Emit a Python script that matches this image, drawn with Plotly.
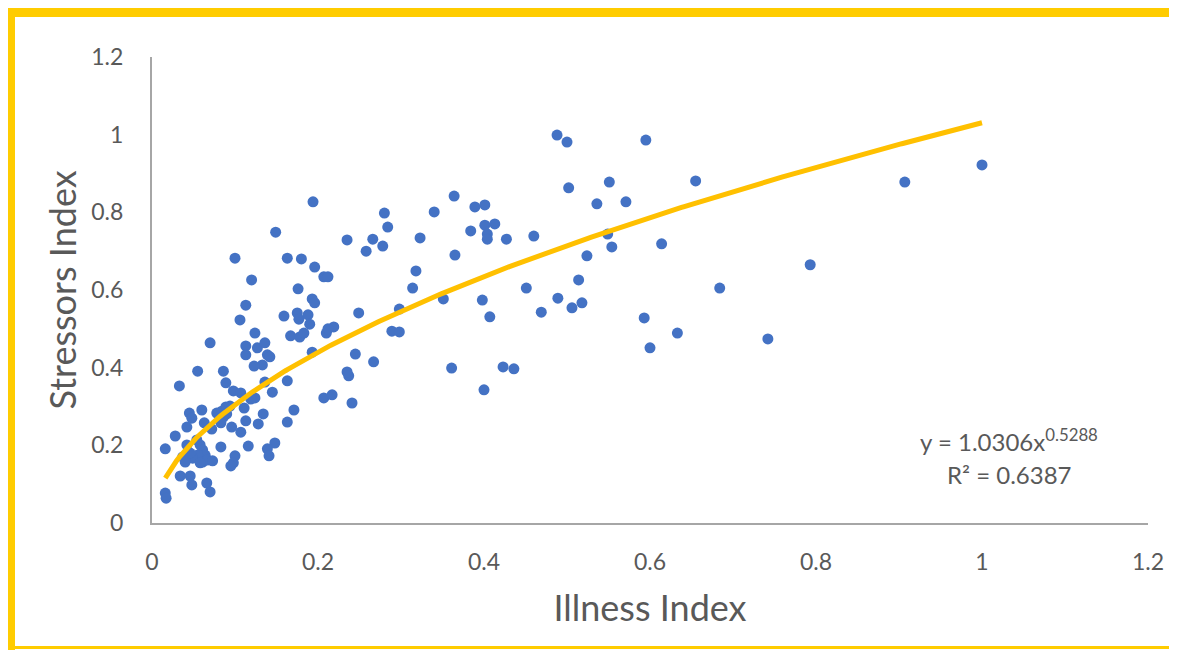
import plotly.graph_objects as go
import numpy as np

# ---- data ----
illness_index = [
    1.000, 0.907, 0.793, 0.684, 0.742, 0.655, 0.595, 0.614, 0.633, 0.593,
    0.600, 0.571, 0.551, 0.536, 0.549, 0.554, 0.524, 0.514, 0.518, 0.506,
    0.489, 0.502, 0.488, 0.500, 0.460, 0.469, 0.451, 0.436, 0.423, 0.427,
    0.413, 0.401, 0.404, 0.404, 0.407, 0.398, 0.400, 0.401, 0.389, 0.384,
    0.365, 0.364, 0.361, 0.351, 0.340, 0.323, 0.318, 0.314, 0.298, 0.289,
    0.298, 0.284, 0.280, 0.278, 0.266, 0.267, 0.258, 0.249, 0.245, 0.241,
    0.237, 0.235, 0.235,
    0.194, 0.149, 0.163, 0.180, 0.196, 0.207, 0.212, 0.176, 0.193, 0.196,
    0.159, 0.175, 0.177, 0.188, 0.190, 0.167, 0.178, 0.183, 0.210, 0.219,
    0.212, 0.193, 0.124, 0.127, 0.136, 0.139, 0.142, 0.133, 0.113, 0.113,
    0.123, 0.163, 0.136, 0.207, 0.217, 0.145, 0.124, 0.171, 0.163, 0.134,
    0.128, 0.148, 0.139, 0.141, 0.100, 0.120, 0.113, 0.106, 0.070,
    0.055, 0.086, 0.033, 0.089, 0.098, 0.107, 0.119, 0.045, 0.048, 0.060,
    0.042, 0.063, 0.078, 0.084, 0.089, 0.094, 0.090, 0.086, 0.111, 0.113,
    0.096, 0.107, 0.072, 0.083, 0.028, 0.016, 0.042, 0.054, 0.058, 0.061,
    0.064, 0.055, 0.049, 0.046, 0.037, 0.061, 0.067, 0.073, 0.058, 0.040,
    0.083, 0.116, 0.100, 0.098, 0.095, 0.034, 0.046, 0.048, 0.066, 0.070,
    0.016, 0.017,
]
stressors_index = [
    0.922, 0.878, 0.665, 0.605, 0.474, 0.881, 0.986, 0.719, 0.489, 0.528,
    0.451, 0.827, 0.878, 0.822, 0.744, 0.711, 0.688, 0.626, 0.567, 0.554,
    0.579, 0.863, 0.999, 0.981, 0.739, 0.543, 0.605, 0.397, 0.402, 0.731,
    0.770, 0.767, 0.744, 0.731, 0.531, 0.574, 0.343, 0.819, 0.814, 0.752,
    0.690, 0.842, 0.399, 0.577, 0.801, 0.734, 0.649, 0.605, 0.551, 0.494,
    0.492, 0.762, 0.798, 0.713, 0.731, 0.415, 0.700, 0.541, 0.435, 0.309,
    0.379, 0.389, 0.729,
    0.827, 0.749, 0.682, 0.680, 0.659, 0.634, 0.634, 0.603, 0.577, 0.567,
    0.533, 0.541, 0.525, 0.536, 0.512, 0.482, 0.479, 0.489, 0.489, 0.505,
    0.500, 0.440, 0.489, 0.451, 0.464, 0.433, 0.428, 0.407, 0.456, 0.433,
    0.404, 0.366, 0.363, 0.322, 0.330, 0.337, 0.322, 0.291, 0.260, 0.281,
    0.255, 0.206, 0.191, 0.173, 0.682, 0.626, 0.561, 0.523, 0.464,
    0.391, 0.391, 0.353, 0.361, 0.340, 0.335, 0.319, 0.283, 0.270, 0.291,
    0.247, 0.258, 0.283, 0.288, 0.299, 0.301, 0.281, 0.273, 0.296, 0.263,
    0.247, 0.234, 0.242, 0.258, 0.224, 0.191, 0.201, 0.214, 0.201, 0.188,
    0.175, 0.175, 0.167, 0.180, 0.170, 0.157, 0.162, 0.160, 0.155, 0.157,
    0.196, 0.198, 0.173, 0.155, 0.147, 0.121, 0.121, 0.098, 0.103, 0.080,
    0.077, 0.064,
]

# power trendline shown on the chart: y = A * x^B
trend_a = 1.0306
trend_b = 0.5288
trend_label = "y = 1.0306x<sup>0.5288</sup>"
r2_label = "R² = 0.6387"

tick_vals = [0, 0.2, 0.4, 0.6, 0.8, 1, 1.2]
tick_text = ["0", "0.2", "0.4", "0.6", "0.8", "1", "1.2"]
x_title = "Illness Index"
y_title = "Stressors Index"

# ---- layout geometry (pixels, in screenshot coordinates) ----
OFF = 8                       # page body margin offset
SW, SH = 1177, 650            # screenshot size
W, H = SW, SH                 # figure size (overflow past the window is cropped)
PL, PR, PT, PB = 152, 1148, 57, 523   # plot area edges in screenshot px
ML, MT = PL - OFF, PT - OFF
MR, MB = W - (PR - OFF), H - (PB - OFF)
PW, PH = PR - PL, PB - PT


def px(xs):
    return (xs - PL) / PW


def py(ys):
    return (PB - ys) / PH


BLUE = "#4472C4"
GOLD = "#FFC000"
TXT = "#595959"
FONT = "Lato"

x_tr = np.linspace(min(illness_index), max(illness_index), 300)
y_tr = trend_a * x_tr ** trend_b

fig = go.Figure()
fig.add_trace(go.Scatter(
    x=illness_index, y=stressors_index, mode="markers",
    marker=dict(color=BLUE, size=11, line=dict(width=0)),
    showlegend=False, hoverinfo="x+y",
))
fig.add_trace(go.Scatter(
    x=x_tr, y=y_tr, mode="lines",
    line=dict(color=GOLD, width=5),
    showlegend=False, hoverinfo="skip",
))

axis_common = dict(
    range=[0, 1.2], tickvals=tick_vals, ticktext=tick_text,
    showgrid=False, zeroline=False, showline=True,
    linecolor="#A6A6A6", linewidth=2, ticks="",
    tickfont=dict(family=FONT, size=23, color=TXT),
    title_font=dict(family=FONT, size=36, color=TXT),
)

fig.update_layout(
    width=W, height=H,
    margin=dict(l=ML, r=MR, t=MT, b=MB, pad=0),
    paper_bgcolor="white", plot_bgcolor="white",
    xaxis=dict(**axis_common, title=dict(text=x_title, standoff=22),
               ticklabelstandoff=17),
    yaxis=dict(**axis_common, title=dict(text=y_title, standoff=4),
               ticklabelstandoff=22),
    font=dict(family=FONT, color=TXT),
    annotations=[
        dict(text=trend_label, x=px(1009), y=py(440), xref="paper", yref="paper",
             showarrow=False, xanchor="center", yanchor="middle",
             font=dict(family=FONT, size=24, color=TXT)),
        dict(text=r2_label, x=px(1009), y=py(474), xref="paper", yref="paper",
             showarrow=False, xanchor="center", yanchor="middle",
             font=dict(family=FONT, size=24, color=TXT)),
    ],
    shapes=[
        dict(type="rect", xref="paper", yref="paper", layer="above",
             x0=px(0), x1=px(SW + 20), y0=py(17), y1=py(0),
             fillcolor="#FFCC00", line=dict(width=0)),
        dict(type="rect", xref="paper", yref="paper", layer="above",
             x0=px(0), x1=px(15), y0=py(SH + 20), y1=py(0),
             fillcolor="#FFCC00", line=dict(width=0)),
        dict(type="rect", xref="paper", yref="paper", layer="above",
             x0=px(0), x1=px(SW + 20), y0=py(649), y1=py(646),
             fillcolor="#FFCC00", line=dict(width=0)),
    ],
)

fig.write_html("out.html")
